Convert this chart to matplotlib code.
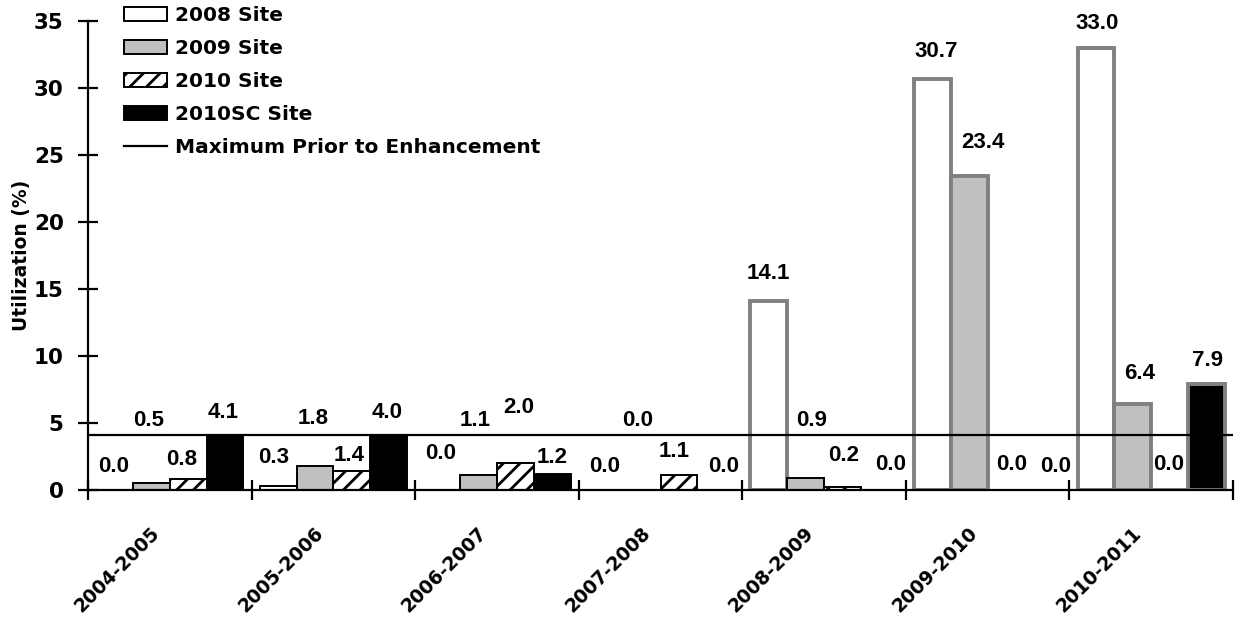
import matplotlib
matplotlib.use("Agg")
import matplotlib.pyplot as plt
import numpy as np
from matplotlib.patches import Patch
from matplotlib.lines import Line2D
from matplotlib.transforms import ScaledTranslation

# ---------------- data ----------------
categories = ["2004-2005", "2005-2006", "2006-2007", "2007-2008",
              "2008-2009", "2009-2010", "2010-2011"]
site_2008 = [0.0, 0.3, 0.0, 0.0, 14.1, 30.7, 33.0]
site_2009 = [0.5, 1.8, 1.1, 0.0, 0.9, 23.4, 6.4]
site_2010 = [0.8, 1.4, 2.0, 1.1, 0.2, 0.0, 0.0]
site_2010sc = [4.1, 4.0, 1.2, 0.0, 0.0, 0.0, 7.9]
series_names = ["2008 Site", "2009 Site", "2010 Site", "2010SC Site"]
enhanced_from = [4, 5, 6, 6]   # first category index after each site's enhancement
max_prior = 4.1
line_label = "Maximum Prior to Enhancement"
y_label = "Utilization (%)"
y_ticks = [0, 5, 10, 15, 20, 25, 30, 35]

# ---------------- layout / style ----------------
series = [site_2008, site_2009, site_2010, site_2010sc]
facecolors = ["white", "#C0C0C0", "white", "black"]
hatches = [None, None, "//", None]
# label placement (data units above value, pixel shifts in x)
label_dy = [
    [1.72, 2.16, 2.76, 1.72, 2.02, 1.99, 1.85],
    [4.72, 3.50, 4.12, 5.22, 4.32, 2.50, 2.33],
    [1.44, 1.21, 4.19, 1.74, 2.41, 1.94, 1.87],
    [1.65, 1.75, 1.26, 1.79, 1.87, 1.79, 1.80],
]
label_dx_px = [
    [-1, -5, -1, -1, -1, 4, 1],
    [-3, -2, -3, -4, 6, 14, 7],
    [-7, -3, 3, -5, 1, 6, -1],
    [-2, -1, 0, 8, 11, 13, 1],
]

WIDE = ["DejaVu Sans"]
NARROW = ["Liberation Sans", "DejaVu Sans"]
plt.rcParams["font.family"] = NARROW
plt.rcParams["font.weight"] = "bold"
plt.rcParams["hatch.linewidth"] = 2.0
plt.rcParams["hatch.color"] = "black"

W, H = 1237, 617
fig = plt.figure(figsize=(W / 100, H / 100), dpi=100)
ax = fig.add_axes([88 / W, 1 - 490 / H, (1233 - 88) / W, (490 - 21) / H])

n_series = len(series)
group = 0.9
bw = group / n_series
x = np.arange(len(categories))

for s, vals in enumerate(series):
    off = -group / 2 + bw * (s + 0.5)
    edgec = ["#808080" if i >= enhanced_from[s] else "black" for i in range(len(vals))]
    lws = [2.8 if i >= enhanced_from[s] else 1.4 for i in range(len(vals))]
    bars = ax.bar(x + off, vals, width=bw, color=facecolors[s], edgecolor=edgec,
                  linewidth=lws, hatch=hatches[s], zorder=2)
    for i, (b, v) in enumerate(zip(bars, vals)):
        tr = ax.transData + ScaledTranslation(label_dx_px[s][i] / 100, 0, fig.dpi_scale_trans)
        ax.text(b.get_x() + b.get_width() / 2, v + label_dy[s][i], f"{v:.1f}",
                ha="center", va="center", fontsize=16, fontweight="bold",
                family=NARROW, transform=tr, zorder=5)

ax.axhline(max_prior, color="black", linewidth=1.6, zorder=3)

ax.set_xlim(-0.5, len(categories) - 0.5)
ax.set_ylim(0, 35)
ax.set_yticks(y_ticks)
ax.set_yticklabels([str(t) for t in y_ticks], fontsize=15.5, fontweight="bold", family=WIDE)
ax.set_ylabel(y_label, fontsize=13.5, fontweight="bold", family=WIDE, labelpad=2)

ax.set_xticks(np.arange(len(categories) + 1) - 0.5)
ax.set_xticklabels([])
ax.set_xticks(x, minor=True)
ax.set_xticklabels(categories, minor=True, rotation=45, ha="right", va="center",
                   rotation_mode="anchor", fontsize=13.5, fontweight="bold", family=WIDE)
ax.tick_params(axis="x", which="minor", length=0, pad=29)
for lab in ax.get_xticklabels(minor=True):
    lab.set_transform(lab.get_transform() + ScaledTranslation(-0.13, 0, fig.dpi_scale_trans))
ax.tick_params(axis="both", which="major", direction="inout", length=14, width=1.6)
ax.tick_params(axis="y", pad=10.5)

for sp in ["top", "right"]:
    ax.spines[sp].set_visible(False)
for sp in ["left", "bottom"]:
    ax.spines[sp].set_linewidth(1.6)
    ax.spines[sp].set_zorder(4)

handles = [Patch(facecolor=facecolors[s], edgecolor="black", linewidth=1.4,
                 hatch=hatches[s], label=series_names[s]) for s in range(n_series)]
handles.append(Line2D([0], [0], color="black", linewidth=1.6, label=line_label))
fig.legend(handles=handles, loc="upper left", bbox_to_anchor=(124 / W, 1 - 6 / H),
           frameon=False, prop={"weight": "bold", "size": 14.5, "family": WIDE},
           borderpad=0, borderaxespad=0, handlelength=2.14, handleheight=0.65,
           handletextpad=0.4, labelspacing=0.7)

fig.savefig("out.png", dpi=100)
